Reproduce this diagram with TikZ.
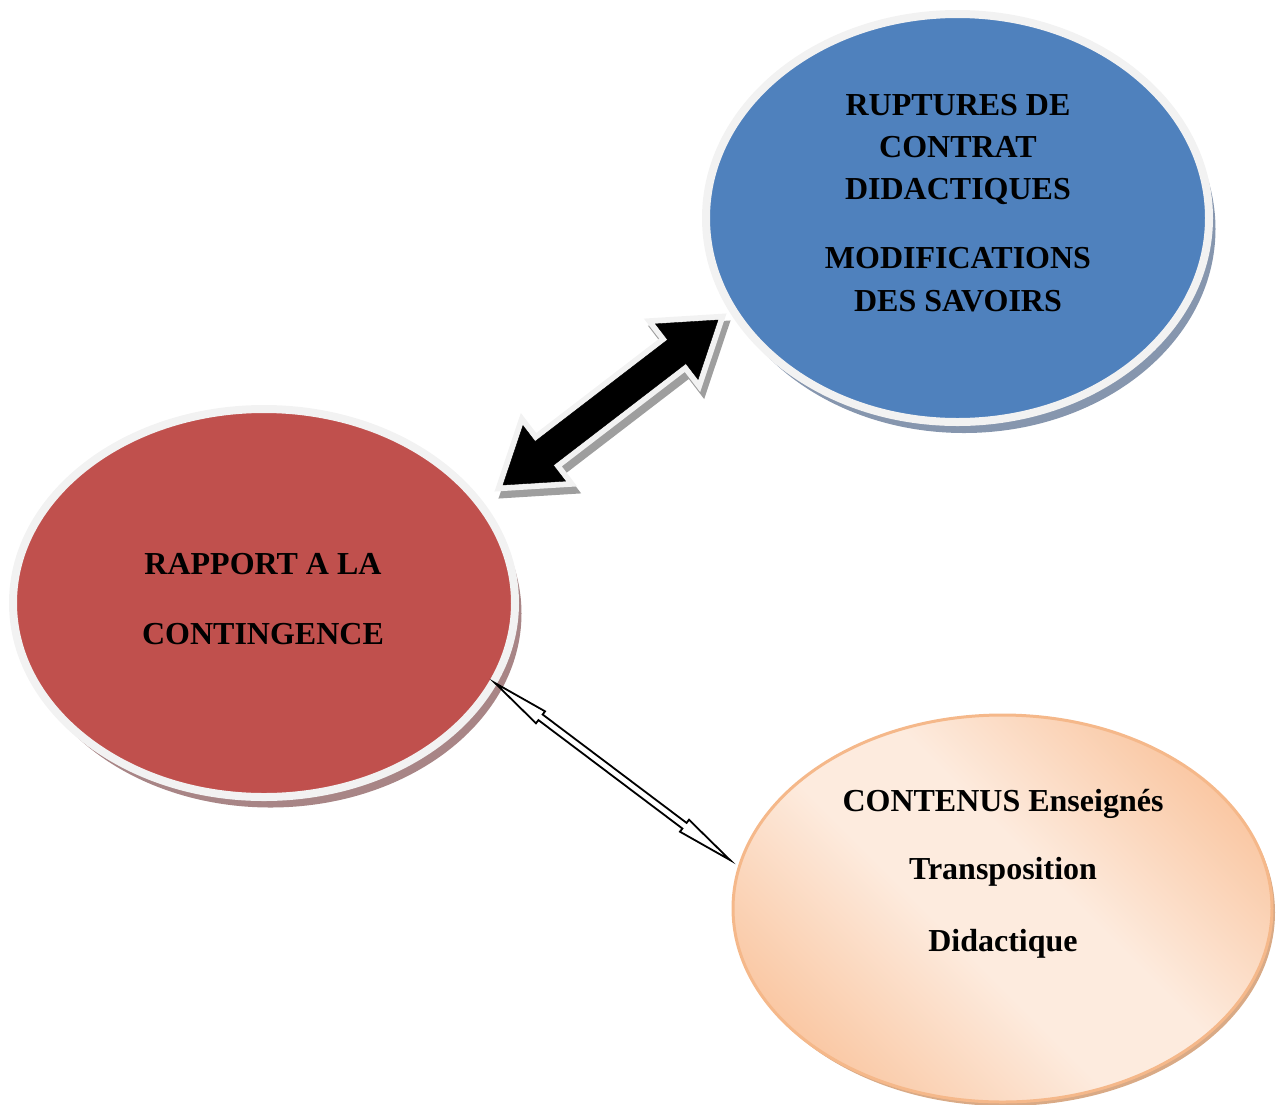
\documentclass[tikz,border=0pt]{standalone}
\usepackage{fontspec}
\setmainfont{Liberation Serif}
\usepackage{xcolor}
\usepackage{tikz}
\usetikzlibrary{shapes.geometric,calc,shadows}

\definecolor{rupture}{HTML}{4F81BD}
\definecolor{rupshadow}{HTML}{8696AE}
\definecolor{rapport}{HTML}{C0504D}
\definecolor{rapshadow}{HTML}{A88586}
\definecolor{rim}{HTML}{F2F2F2}
\definecolor{peach}{HTML}{F9C39C}
\definecolor{peachlight}{HTML}{FDEBDE}
\definecolor{peachrim}{HTML}{F5B88A}
\definecolor{peachshadow}{HTML}{D9AA86}

\pgfdeclarehorizontalshading{peachband}{100bp}{color(0bp)=(peach); color(22bp)=(peach); color(44bp)=(peachlight); color(56bp)=(peachlight); color(78bp)=(peach); color(100bp)=(peach)}

% double block arrow: [opts]{start}{end}{shaft half}{head half}{head length}
\newcommand\dblarrow[6][]{%
\draw[#1] (#2) -- ($(#2)!#6!(#3)!#5!90:(#3)$) -- ($(#2)!#6!(#3)!#4!90:(#3)$)
 -- ($(#3)!#6!(#2)!#4!-90:(#2)$) -- ($(#3)!#6!(#2)!#5!-90:(#2)$) -- (#3)
 -- ($(#3)!#6!(#2)!#5!90:(#2)$) -- ($(#3)!#6!(#2)!#4!90:(#2)$)
 -- ($(#2)!#6!(#3)!#4!-90:(#3)$) -- ($(#2)!#6!(#3)!#5!-90:(#3)$) -- cycle;}

\begin{document}
\begin{tikzpicture}[x=1pt,y=-1pt,
 bubble/.style={ellipse,inner sep=0pt,line width=8pt,draw=rim},
 lbl/.style={anchor=base,inner sep=0pt,font=\fontsize{32}{38}\selectfont\bfseries},
 bigarrow/.style={fill=black,preaction={draw=rim,line width=12pt,line join=miter}},
 bigshadow/.style={fill=black!38,draw=black!38,line width=12pt,line join=miter,
   transform canvas={shift={(4,7)}}},
 thinarrow/.style={fill=white,draw=black,line width=1.8pt,line join=miter}]
\useasboundingbox (0,0) rectangle (1278,1104);

\node[bubble,fill=rupture,minimum width=503pt,minimum height=408pt,
 drop shadow={shadow xshift=6.5pt,shadow yshift=-11pt,fill=rupshadow,opacity=1}]
 (ruptures) at (957.5,218) {};
\node[bubble,fill=rapport,minimum width=502pt,minimum height=388pt,
 drop shadow={shadow xshift=6.5pt,shadow yshift=-10.5pt,fill=rapshadow,opacity=1}]
 (rapport) at (264,603) {};
\node[ellipse,inner sep=0pt,line width=3pt,draw=peachrim,
 shade,shading=peachband,shading angle=45,minimum width=539pt,minimum height=387pt,
 drop shadow={shadow xshift=3pt,shadow yshift=-4pt,fill=peachshadow,opacity=1}]
 (contenus) at (1002.5,908.5) {};

\foreach\t/\y[count=\i] in {RUPTURES DE/115,CONTRAT/157,DIDACTIQUES/199,MODIFICATIONS/268,DES SAVOIRS/311}
 {\node[lbl] (rup\i) at (958,\y) {\t};}
\foreach\t/\y[count=\i] in {RAPPORT A LA/574,CONTINGENCE/644}
 {\node[lbl] (rap\i) at (263,\y) {\t};}
\foreach\t/\y[count=\i] in {CONTENUS Enseignés/811,Transposition/879,Didactique/951}
 {\node[lbl] (con\i) at (1003,\y) {\t};}

\coordinate (bigL) at (503,485);
\coordinate (bigR) at (718,320);
\coordinate (thinL) at (495,683);
\coordinate (thinR) at (730,860);

\dblarrow[bigshadow]{bigL}{bigR}{15pt}{35pt}{52pt}
\dblarrow[bigarrow]{bigL}{bigR}{15pt}{35pt}{52pt}
\dblarrow[thinarrow]{thinL}{thinR}{3.5pt}{7.5pt}{57pt}
\end{tikzpicture}
\end{document}
